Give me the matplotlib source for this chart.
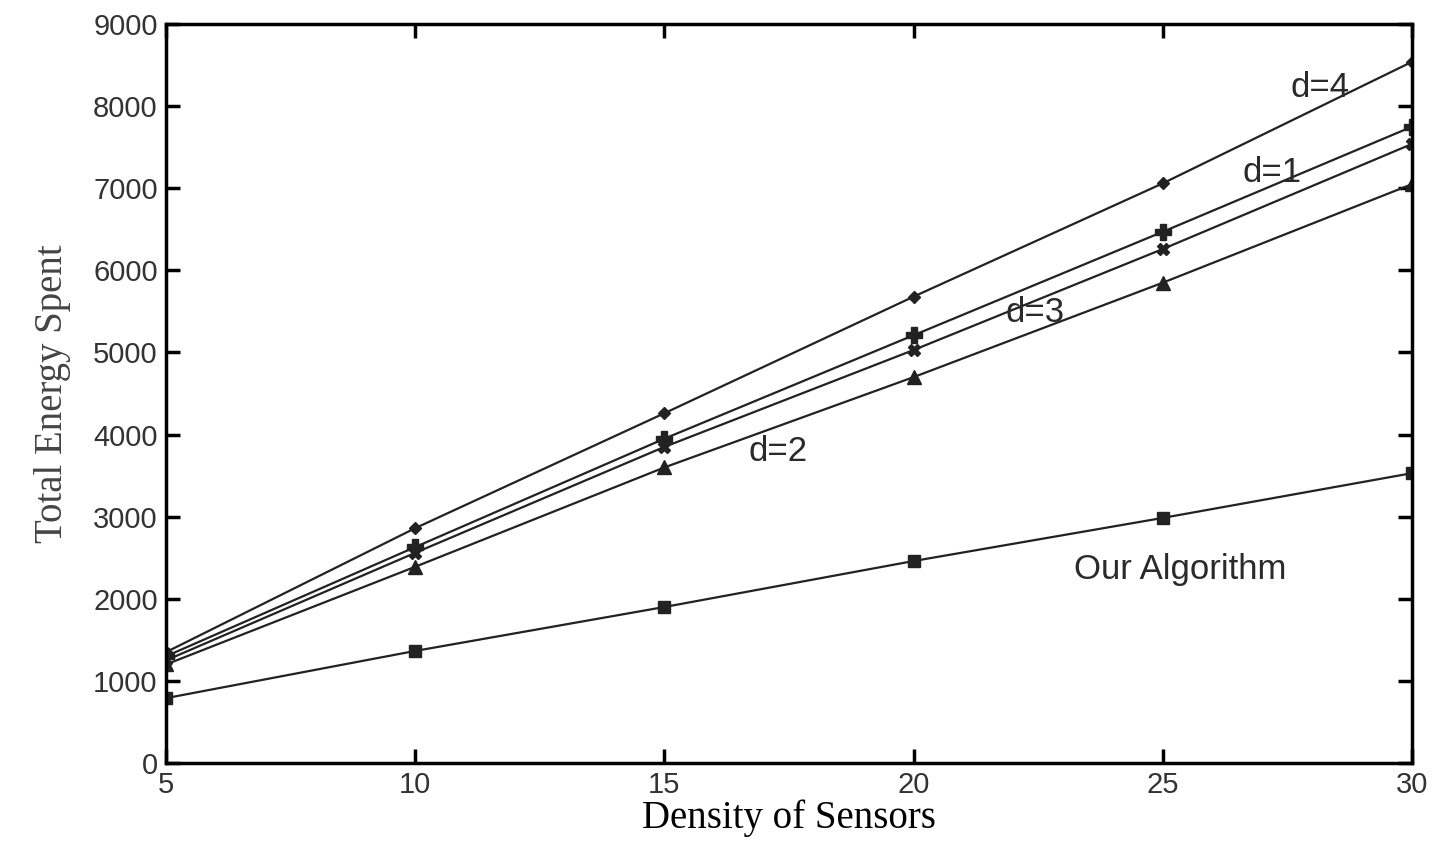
import matplotlib
matplotlib.use("Agg")
import matplotlib.pyplot as plt

density = [5, 10, 15, 20, 25, 30]
d4 = [1350, 2860, 4260, 5680, 7060, 8540]
d1 = [1300, 2630, 3950, 5210, 6470, 7750]
d3 = [1250, 2560, 3850, 5030, 6260, 7540]
d2 = [1200, 2390, 3600, 4700, 5850, 7050]
ours = [790, 1365, 1900, 2460, 2985, 3530]

xticks = [5, 10, 15, 20, 25, 30]
yticks = [0, 1000, 2000, 3000, 4000, 5000, 6000, 7000, 8000, 9000]

fig = plt.figure(figsize=(14.41, 8.46), dpi=100)
ax = fig.add_axes([0.1152, 0.0981, 0.8647, 0.8735])

lc = "#222222"
ax.plot(density, d4, color=lc, lw=1.6, marker="D", ms=6)
ax.plot(density, d1, color=lc, lw=1.6, marker="P", ms=11)
ax.plot(density, d3, color=lc, lw=1.6, marker="X", ms=8)
ax.plot(density, d2, color=lc, lw=1.6, marker="^", ms=10)
ax.plot(density, ours, color=lc, lw=1.6, marker="s", ms=9)

tf = dict(family="Liberation Sans", fontsize=25, color="#2a2a2a", ha="center", va="center")
ax.text(28.15, 8222, "d=4", **tf)
ax.text(27.19, 7186, "d=1", **tf)
ax.text(22.44, 5481, "d=3", **tf)
ax.text(17.28, 3788, "d=2", **tf)
ax.text(25.35, 2351, "Our Algorithm", **tf)

ax.set_xlim(5, 30)
ax.set_ylim(0, 9000)
ax.set_xticks(xticks)
ax.set_yticks(yticks)
ax.tick_params(direction="in", length=10, width=2.5, top=True, right=True,
               labelsize=21, pad=6)
for lab in ax.get_xticklabels() + ax.get_yticklabels():
    lab.set_family("Liberation Sans")
    lab.set_color("#333333")
for s in ax.spines.values():
    s.set_linewidth(2.5)

ax.set_xlabel("Density of Sensors", family="Liberation Serif", fontsize=28, labelpad=0)
ax.set_ylabel("Total Energy Spent", family="Liberation Serif", fontsize=28,
              color="#444444", labelpad=16)

fig.savefig("out.png", dpi=100)
